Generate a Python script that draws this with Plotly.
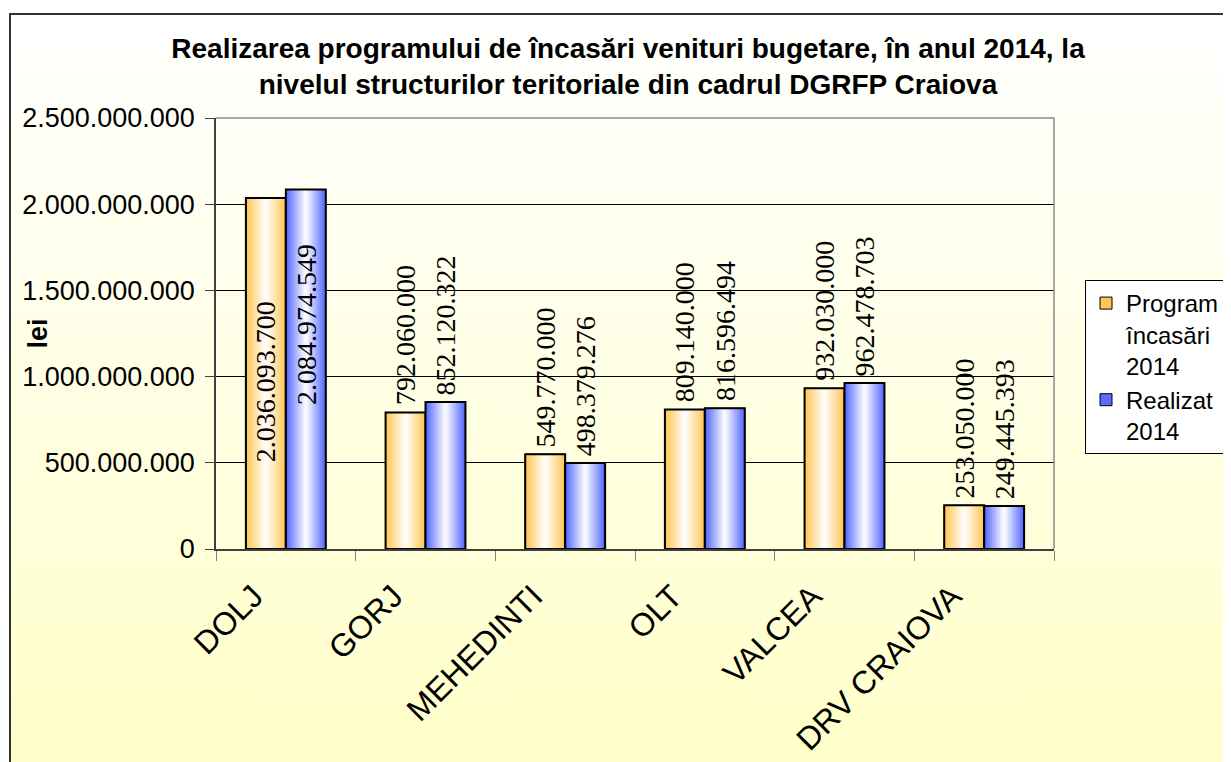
import base64
import plotly.graph_objects as go

categories = ["DOLJ", "GORJ", "MEHEDINTI", "OLT", "VALCEA", "DRV CRAIOVA"]
program = [2036093700, 792060000, 549770000, 809140000, 932030000, 253050000]
realizat = [2084974549, 852120322, 498379276, 816596494, 962478703, 249445393]
series_names = ["Program<br>încasări<br>2014", "Realizat<br>2014"]
y_ticks = [0, 500000000, 1000000000, 1500000000, 2000000000, 2500000000]

# the page body adds an 8px offset; reference pixel positions below
OFF = 8
L, R, T, B = 216, 1054, 118, 549
W, H = 1231, 762
Y_MAX = 2500000000


def px_x(p):
    return (p - L) / (R - L)


def px_y(p):
    return (B - p) / (B - T)


def mix(c1, c2, t):
    return "rgb(%d,%d,%d)" % tuple(round(a + (b - a) * t) for a, b in zip(c1, c2))


def fmt(v):
    return f"{v:,d}".replace(",", ".")


WHITE = (255, 255, 255)
edge_colors = [(255, 196, 80), (80, 100, 255)]
centers = [-0.143, 0.143]
bar_w = 0.286
N = 10
SERIF = "'Liberation Serif', Tinos, 'Times New Roman', 'DejaVu Serif', serif"
cat_px = (R - L) / len(categories)
inside_shift = [-8, 45]

fig = go.Figure()
annotations = []

for s, (vals, name) in enumerate(zip([program, realizat], series_names)):
    for k in range(N):
        w = bar_w * (1 - k / N)
        fig.add_trace(go.Bar(
            x=categories, y=vals, name=name,
            offset=centers[s] - w / 2, width=w,
            marker=dict(color=mix(edge_colors[s], WHITE, (k + 0.5) / N),
                        line=dict(width=1 if k == 0 else 0, color="black")),
            showlegend=(k == 0), legendgroup=str(s), hoverinfo="skip",
        ))
    fig.add_trace(go.Bar(
        x=categories, y=vals, name=name,
        offset=centers[s] - bar_w / 2, width=bar_w,
        marker=dict(color="rgba(0,0,0,0)", line=dict(width=2, color="black")),
        showlegend=False, legendgroup=str(s), hoverinfo="skip",
    ))
    for c, v in zip(categories, vals):
        inside = v > 0.76 * Y_MAX
        annotations.append(dict(
            x=c, y=v / 2 if inside else v, xref="x", yref="y",
            xshift=centers[s] * cat_px,
            yshift=inside_shift[s] if inside else 6,
            text=fmt(v), textangle=-90, showarrow=False,
            xanchor="center", yanchor="middle" if inside else "bottom",
            borderpad=0,
            font=dict(family=SERIF, size=28, color="black"),
        ))

annotations.append(dict(text="lei", xref="paper", yref="paper", x=px_x(37), y=0.5,
                        xanchor="center", yanchor="middle",
                        textangle=-90, showarrow=False,
                        font=dict(family="Liberation Sans", size=27, color="black", weight="bold")))

svg = ('<svg xmlns="http://www.w3.org/2000/svg" width="100" height="100" '
       'viewBox="0 0 100 100" preserveAspectRatio="none"><defs>'
       '<linearGradient id="g" x1="0" y1="0" x2="0" y2="1">'
       '<stop offset="0" stop-color="#FFFFFF"/><stop offset="1" stop-color="#FFFFC8"/>'
       '</linearGradient></defs><rect width="100" height="100" fill="url(#g)"/></svg>')
src = "data:image/svg+xml;base64," + base64.b64encode(svg.encode()).decode()

bx0, by0, bx1, by1 = px_x(10), px_y(14), px_x(1250), px_y(780)

fig.update_layout(
    width=W, height=H,
    margin=dict(l=L - OFF, r=W - (R - OFF), t=T - OFF, b=H - (B - OFF), autoexpand=False),
    barmode="overlay",
    separators=",.",
    paper_bgcolor="white",
    plot_bgcolor="rgba(0,0,0,0)",
    font=dict(family="Liberation Sans", color="black"),
    title=dict(
        text="Realizarea programului de încasări venituri bugetare, în anul 2014, la<br>"
             "nivelul structurilor teritoriale din cadrul DGRFP Craiova",
        font=dict(family="Liberation Sans", size=28, color="black", weight="bold"),
        x=px_x(628), xref="paper", xanchor="center",
        y=1 - 50 / H, yref="container", yanchor="top",
    ),
    xaxis=dict(
        type="category", range=[-0.5, 5.5],
        showline=True, linecolor="#404040", linewidth=1.5,
        ticks="outside", tickson="boundaries", ticklen=10, tickcolor="#808080",
        tickangle=-45, ticklabelshift=-32, ticklabelstandoff=14,
        tickfont=dict(family="Liberation Sans", size=32, color="black"),
        showgrid=False,
    ),
    yaxis=dict(
        range=[0, Y_MAX], tickvals=y_ticks, tickformat=",d",
        showline=True, linecolor="#404040", linewidth=1.5,
        ticks="outside", ticklen=9, tickcolor="#404040",
        ticklabelstandoff=5,
        tickfont=dict(family="Liberation Sans", size=27, color="black"),
        showgrid=True, gridcolor="black", gridwidth=1, zeroline=False,
    ),
    legend=dict(
        x=px_x(1085), y=px_y(280), xanchor="left", yanchor="top",
        bgcolor="white", bordercolor="black", borderwidth=1,
        font=dict(family="Liberation Sans", size=24, color="black"),
        valign="top", traceorder="normal", tracegroupgap=0, itemwidth=30,
    ),
    images=[dict(source=src, xref="paper", yref="paper", x=bx0, y=by0,
                 sizex=bx1 - bx0, sizey=by0 - by1, sizing="stretch",
                 xanchor="left", yanchor="top", layer="below")],
    shapes=[
        dict(type="rect", xref="paper", yref="paper", x0=bx0, y0=by1, x1=bx1, y1=by0,
             line=dict(color="#333333", width=2), fillcolor="rgba(0,0,0,0)", layer="above"),
        dict(type="path", xref="paper", yref="paper", path="M 0,1 L 1,1 L 1,0",
             line=dict(color="#8c8c8c", width=1.5), layer="above"),
    ],
    annotations=annotations,
)

fig.write_html("out.html")
